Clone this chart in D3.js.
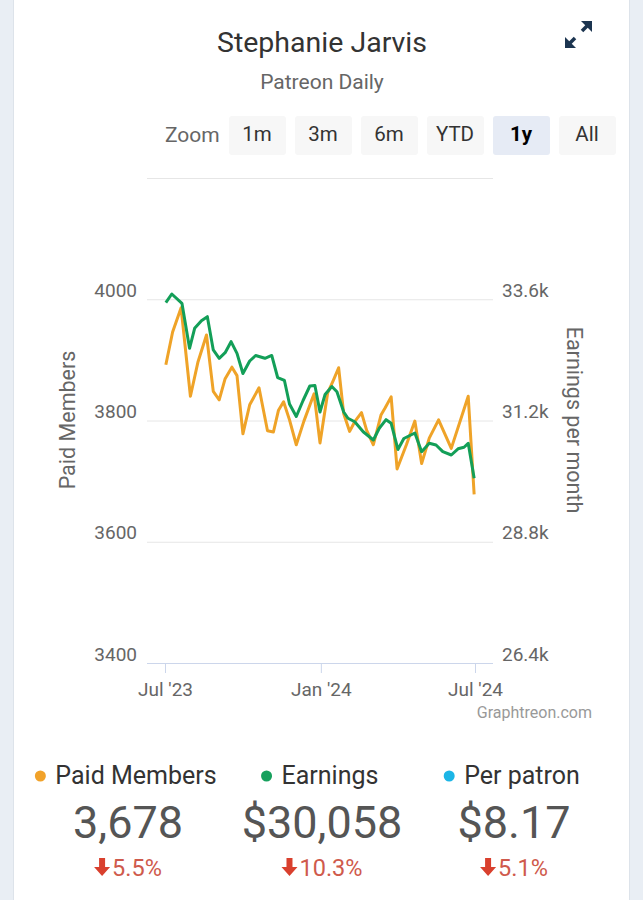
<!DOCTYPE html>
<html><head><meta charset="utf-8">
<script src="https://cdn.jsdelivr.net/npm/d3@7"></script>
<style>
html,body{margin:0;padding:0;background:#e9eef4;}
svg{display:block;font-family:Roboto,"Noto Sans",sans-serif;}
</style></head>
<body>
<svg id="c" width="643" height="900"></svg>
<script>
// ---- data ----
const startDate = "2023-07-01";
const memberDays = [1,9,19,30,39,49,57,64,71,79,85,92,100,111,121,128,134,140,147,155,164,176,183,192,199,205,211,218,224,232,238,246,255,260,267,274,285,295,303,312,323,338,358,365];
const memberValues = [3892,3946,3986,3840,3897,3941,3848,3834,3869,3888,3874,3778,3826,3854,3783,3781,3817,3831,3801,3760,3799,3844,3763,3845,3867,3887,3811,3782,3798,3813,3784,3760,3809,3821,3839,3720,3760,3799,3729,3771,3801,3754,3840,3678];
const earningDays = [1,8,20,29,35,43,50,57,64,71,78,85,92,100,107,118,126,133,141,147,155,163,171,177,183,189,197,203,211,216,224,234,246,253,261,267,275,282,295,303,312,320,328,338,346,353,358,365];
const earningValues = [33532,33704,33520,32629,33025,33176,33255,32596,32431,32542,32760,32530,32130,32378,32487,32431,32487,32051,31992,31527,31279,31596,31883,31893,31368,31715,31873,31770,31368,31244,31176,30978,30814,31046,31216,31145,30626,30844,30953,30583,30749,30715,30583,30517,30640,30670,30749,30058];
const leftTicks = [3400,3600,3800,4000];
const leftGrid = [3400,3600,3800,4000,4200];
const rightTicks = [26400,28800,31200,33600];
const xTickDates = ["2023-07-01","2024-01-01","2024-07-01"];
const xTickLabels = ["Jul '23","Jan '24","Jul '24"];
const zoomButtons = ["1m","3m","6m","YTD","1y","All"];
const statNames = ["Paid Members","Earnings","Per patron"];
const statValues = ["3,678","$30,058","$8.17"];
const statChanges = ["5.5%","10.3%","5.1%"];
const statColors = ["#f1a22a","#17a05d","#1cb5e6"];

const ORANGE = "#efa328", GREEN = "#139f58";
const svg = d3.select("#c");
const parse = d3.timeParse("%Y-%m-%d");
const t0 = parse(startDate);

// card
svg.append("rect").attr("x",13.5).attr("y",-2).attr("width",616).attr("height",910)
  .attr("fill","#fff").attr("stroke","#dde3ea");

// title
svg.append("text").attr("x",322).attr("y",52).attr("text-anchor","middle")
  .attr("font-size",28.5).attr("fill","#333").text("Stephanie Jarvis");
svg.append("text").attr("x",322).attr("y",89).attr("text-anchor","middle")
  .attr("font-size",21).attr("fill","#666").text("Patreon Daily");

// expand icon
const ic = svg.append("g").attr("fill","#1c3550").attr("stroke","#1c3550");
ic.append("line").attr("x1",568).attr("y1",45).attr("x2",575).attr("y2",38).attr("stroke-width",3.5);
ic.append("path").attr("d","M565,48 L565,37 L576,48 Z").attr("stroke","none");
ic.append("line").attr("x1",582).attr("y1",31).attr("x2",589).attr("y2",24).attr("stroke-width",3.5);
ic.append("path").attr("d","M592,21 L592,32 L581,21 Z").attr("stroke","none");

// zoom buttons
svg.append("text").attr("x",165).attr("y",142).attr("font-size",21).attr("fill","#666").text("Zoom");
const bx = d3.scalePoint().domain(zoomButtons).range([257,587]);
zoomButtons.forEach(b=>{
  const g = svg.append("g");
  g.append("rect").attr("x",bx(b)-28).attr("y",116).attr("width",57).attr("height",39).attr("rx",3)
    .attr("fill", b==="1y" ? "#e6ebf5" : "#f7f7f7");
  g.append("text").attr("x",bx(b)).attr("y",141).attr("text-anchor","middle")
    .attr("font-size",20.5).attr("fill", b==="1y" ? "#000" : "#333")
    .attr("font-weight", b==="1y" ? "bold" : "normal").text(b);
});

// scales
const x = d3.scaleTime().domain([parse(xTickDates[0]), parse(xTickDates[2])]).range([165,475]);
const yL = d3.scaleLinear().domain([3400,4200]).range([663,178]);
const yR = d3.scaleLinear().domain([26400,36000]).range([663,178]);

// grid
svg.append("g").selectAll("line").data(leftGrid).join("line")
  .attr("x1",147).attr("x2",493).attr("y1",d=>yL(d)+0.5).attr("y2",d=>yL(d)+0.5)
  .attr("stroke","#e6e6e6");
// x axis line
svg.append("line").attr("x1",147).attr("x2",493).attr("y1",663.5).attr("y2",663.5).attr("stroke","#ccd6eb");

// left axis
const la = d3.axisLeft(yL).tickValues(leftTicks).tickSize(0).tickPadding(0).tickFormat(d3.format("d"));
svg.append("g").attr("transform","translate(137,-9)").call(la)
  .call(g=>g.select(".domain").remove())
  .call(g=>g.selectAll("text").attr("font-size",19).attr("fill","#666").attr("font-family","Roboto"));
// right axis
const ra = d3.axisRight(yR).tickValues(rightTicks).tickSize(0).tickPadding(0)
  .tickFormat(d=>(d/1000).toFixed(1)+"k");
svg.append("g").attr("transform","translate(502,-9)").call(ra)
  .call(g=>g.select(".domain").remove())
  .call(g=>g.selectAll("text").attr("font-size",19).attr("fill","#666").attr("font-family","Roboto"));
// bottom axis
const ba = d3.axisBottom(x).tickValues(xTickDates.map(parse)).tickSize(10).tickPadding(10)
  .tickFormat((d,i)=>xTickLabels[i]);
svg.append("g").attr("transform","translate(0,663)").call(ba)
  .call(g=>g.select(".domain").remove())
  .call(g=>g.selectAll("line").attr("stroke","#ccd6eb"))
  .call(g=>g.selectAll("text").attr("font-size",19).attr("fill","#666").attr("font-family","Roboto"));

// axis titles
svg.append("text").attr("transform","translate(75,420) rotate(-90)").attr("text-anchor","middle")
  .attr("font-size",21.5).attr("fill","#666").text("Paid Members");
svg.append("text").attr("transform","translate(567,420) rotate(90)").attr("text-anchor","middle")
  .attr("font-size",21.5).attr("fill","#666").text("Earnings per month");

// lines
const mData = memberDays.map((d,i)=>({t:d3.timeDay.offset(t0,d), v:memberValues[i]}));
const eData = earningDays.map((d,i)=>({t:d3.timeDay.offset(t0,d), v:earningValues[i]}));
svg.append("path").datum(mData).attr("fill","none").attr("stroke",ORANGE).attr("stroke-width",3)
  .attr("stroke-linejoin","round").attr("d",d3.line().x(d=>x(d.t)).y(d=>yL(d.v)));
svg.append("path").datum(eData).attr("fill","none").attr("stroke",GREEN).attr("stroke-width",3)
  .attr("stroke-linejoin","round").attr("d",d3.line().x(d=>x(d.t)).y(d=>yR(d.v)));

// credit
svg.append("text").attr("x",592).attr("y",718).attr("text-anchor","end")
  .attr("font-size",16).attr("fill","#999").text("Graphtreon.com");

// stats
const cx = [128,322,514];
statNames.forEach((n,i)=>{
  const g = svg.append("g");
  const lt = g.append("text").attr("x",cx[i]+8).attr("y",784).attr("text-anchor","middle")
    .attr("font-size",25).attr("fill","#333").text(n);
  const w = lt.node().getComputedTextLength();
  g.append("circle").attr("cx",cx[i]+8-w/2-15).attr("cy",776).attr("r",5.5).attr("fill",statColors[i]);
  g.append("text").attr("x",cx[i]).attr("y",838).attr("text-anchor","middle")
    .attr("font-size",45).attr("fill","#555").text(statValues[i]);
  const ct = g.append("text").attr("x",cx[i]+9).attr("y",876).attr("text-anchor","middle")
    .attr("font-size",23.5).attr("fill","#cf5a4c").text(statChanges[i]);
  const cw = ct.node().getComputedTextLength();
  const ax = cx[i]+9-cw/2-10;
  g.append("path").attr("fill","#d9402e")
    .attr("d",`M${ax-3},858 h6 v9 h5 l-8,9 l-8,-9 h5 Z`);
});
</script>
</body></html>
